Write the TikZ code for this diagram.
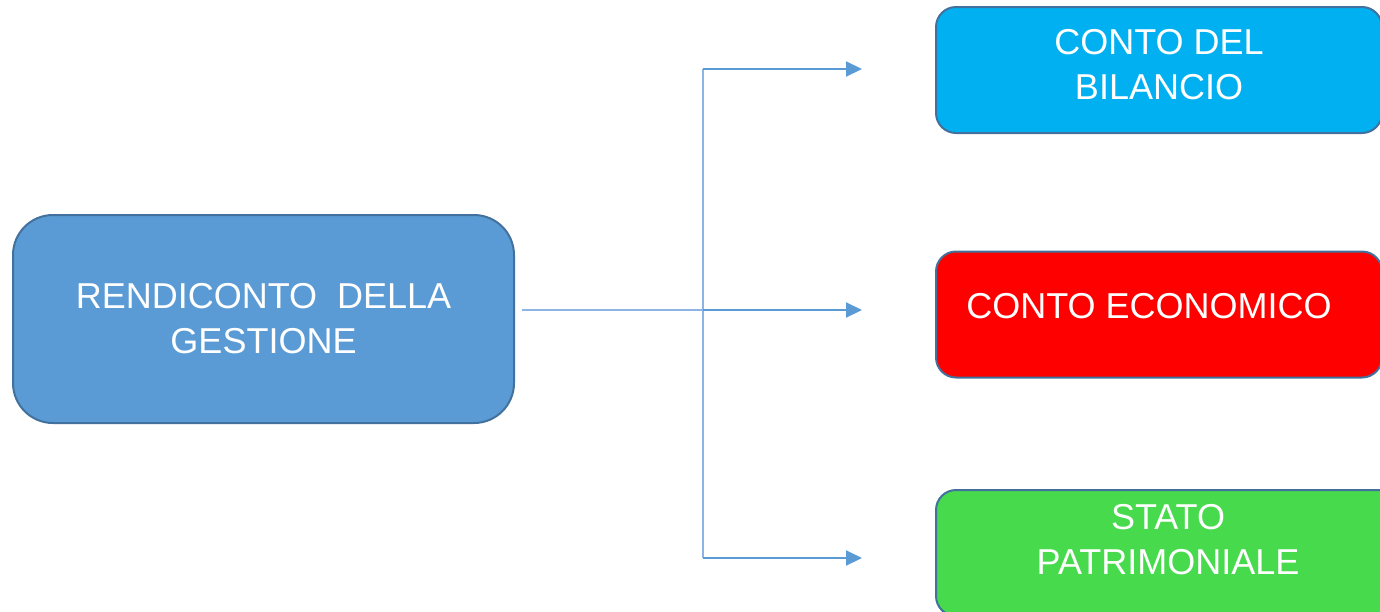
\documentclass[tikz,border=0pt]{standalone}
\usepackage{fontspec}
\setmainfont{Liberation Sans}
\usetikzlibrary{arrows.meta}
\definecolor{boxblue}{HTML}{5B9BD5}
\definecolor{edgeblue}{HTML}{41719C}
\definecolor{cyanbox}{HTML}{00B0F0}
\definecolor{redbox}{HTML}{FF0000}
\definecolor{greenbox}{HTML}{47DA4D}
\definecolor{lightline}{HTML}{8DB4E2}
\definecolor{arrowblue}{HTML}{5B9BD5}
\tikzset{
  box/.style={draw=edgeblue, line width=2pt, text=white, align=center,
    font=\fontsize{36}{45}\selectfont, inner sep=0pt},
  thinline/.style={draw=lightline, line width=2pt},
  arrowline/.style={draw=arrowblue, line width=2pt,
    -{Triangle[length=16pt,width=15pt]}}
}
\begin{document}
\begin{tikzpicture}[x=1pt,y=-1pt]
\useasboundingbox (0,0) rectangle (1380,611);
\node[box, fill=boxblue, rounded corners=40pt, minimum width=501pt, minimum height=208pt]
  (rg) at (263.5,319) {RENDICONTO\ \ DELLA\\GESTIONE};
\node[box, fill=cyanbox, rounded corners=20pt, minimum width=446pt, minimum height=126pt, text depth=12pt]
  (cb) at (1159,70) {CONTO DEL\\BILANCIO};
\node[box, fill=redbox, rounded corners=20pt, minimum width=446pt, minimum height=126pt, text depth=17pt]
  (ce) at (1159,314.5) {CONTO ECONOMICO\hspace*{20pt}};
\node[box, fill=greenbox, rounded corners=20pt, minimum width=464pt, minimum height=126pt, text depth=28pt]
  (sp) at (1168,553) {STATO\\PATRIMONIALE};
\coordinate (start) at (522,310);
\coordinate (jm) at (703,310);
\coordinate (jt) at (703,69);
\coordinate (jb) at (703,558);
\coordinate (et) at (862,69);
\coordinate (em) at (862,310);
\coordinate (eb) at (862,558);
\draw[thinline] (start) -- (jm);
\draw[thinline] (jt) -- (jb);
\draw[arrowline] (jt) -- (et);
\draw[arrowline] (jm) -- (em);
\draw[arrowline] (jb) -- (eb);
\end{tikzpicture}
\end{document}
